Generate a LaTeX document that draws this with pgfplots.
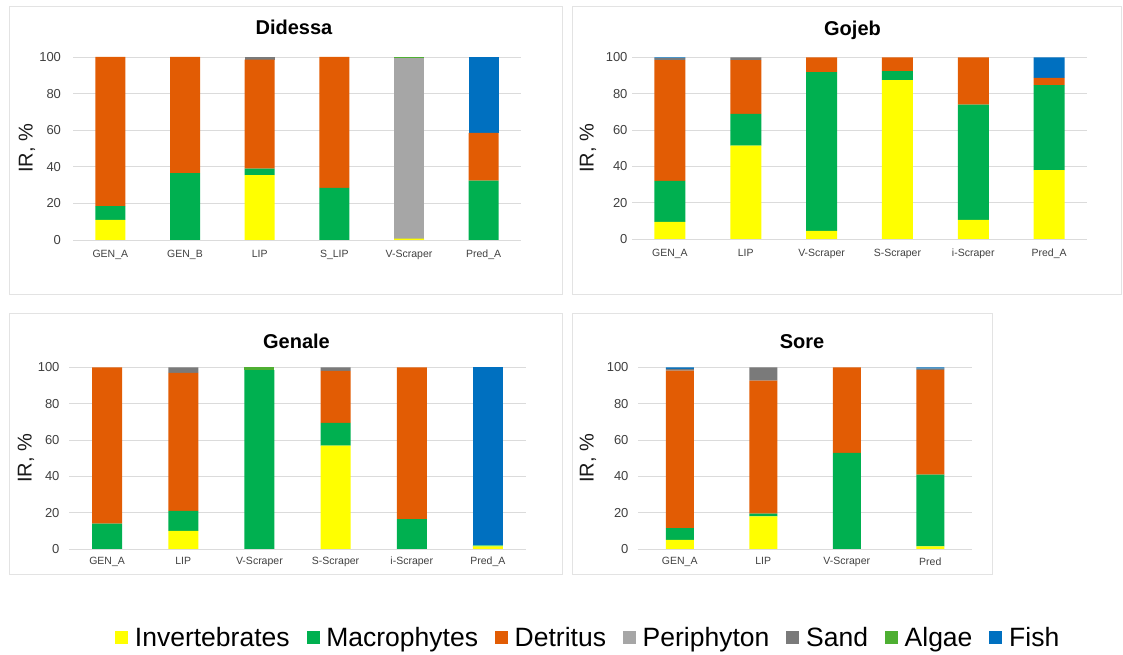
\documentclass[border=0pt]{standalone}
\usepackage{pgfplots}
\pgfplotsset{compat=1.18}
\usepackage{pgfplotstable}
\usepackage{fontspec}
\setmainfont{Liberation Sans}

\definecolor{cInv}{HTML}{FFFF00}
\definecolor{cMac}{HTML}{00B050}
\definecolor{cDet}{HTML}{E25C04}
\definecolor{cPer}{HTML}{A6A6A6}
\definecolor{cSand}{HTML}{7A7A7A}
\definecolor{cAlg}{HTML}{4EAF32}
\definecolor{cFish}{HTML}{0070C0}
\definecolor{tick}{HTML}{404040}
\definecolor{frame}{HTML}{E3E3E3}

% Didessa: GEN_A GEN_B LIP S_LIP V-Scraper Pred_A
\pgfplotstableread{
x Inv Mac Det Per Sand Alg Fish
0 11   7.5  81.5 0    0   0   0
1 0    36.5 63.5 0    0   0   0
2 35.5 3.5  59.5 0    1.5 0   0
3 0    28.5 71.5 0    0   0   0
4 0.8  0    0    98.7 0   0.5 0
5 0    32.5 26   0    0   0   41.5
}\didessa

% Gojeb: GEN_A LIP V-Scraper S-Scraper i-Scraper Pred_A
\pgfplotstableread{
x Inv Mac Det Per Sand Alg Fish
0 9.5  22.5 66.5 0 1.2 0 0.3
1 51.5 17.5 29.5 0 1.5 0 0
2 4.5  87.5 8    0 0   0 0
3 87.5 5    7.5  0 0   0 0
4 10.5 63.5 26   0 0   0 0
5 38   46.8 4    0 0   0 11.2
}\gojeb

% Genale: GEN_A LIP V-Scraper S-Scraper i-Scraper Pred_A
\pgfplotstableread{
x Inv Mac Det Per Sand Alg Fish
0 0   14   86   0 0   0   0
1 10  11   76   0 3   0   0
2 0   98.5 0    0 0   1.5 0
3 57  12.5 28.7 0 1.8 0   0
4 0   16.5 83.5 0 0   0   0
5 1.5 0.5  0    0 0   0   98
}\genale

% Sore: GEN_A LIP V-Scraper Pred
\pgfplotstableread{
x Inv Mac Det Per Sand Alg Fish
0 5   6.5  86.8 0 0.9 0 0.8
1 18  1.5  73.3 0 7.2 0 0
2 0   53   47   0 0   0 0
3 1.5 39.5 57.7 0 0.7 0 0.6
}\sore

\newcommand{\stackall}[1]{%
  \addplot[fill=cInv]  table[x=x,y=Inv]{#1};
  \addplot[fill=cMac]  table[x=x,y=Mac]{#1};
  \addplot[fill=cDet]  table[x=x,y=Det]{#1};
  \addplot[fill=cPer]  table[x=x,y=Per]{#1};
  \addplot[fill=cSand] table[x=x,y=Sand]{#1};
  \addplot[fill=cAlg]  table[x=x,y=Alg]{#1};
  \addplot[fill=cFish] table[x=x,y=Fish]{#1};
}

\pgfplotsset{
  panel/.style={
    scale only axis,
    ybar stacked,
    ymin=0, ymax=100, ytick={0,20,...,100},
    axis line style={draw=none},
    major tick length=0pt,
    ymajorgrids,
    grid style={draw=black!14, line width=0.8pt},
    /pgf/number format/assume math mode=true,
    yticklabel style={font=\fontsize{13}{15}\selectfont, text=tick},
    xticklabel style={font=\fontsize{10.5}{12}\selectfont, text=tick},
    ylabel={IR, \%},
    ylabel style={font=\fontsize{20}{24}\selectfont, anchor=center, text=black!90},
    title style={font=\bfseries\fontsize{20}{24}\selectfont, at={(axis description cs:0.5,1)}, anchor=center},
    every axis plot/.append style={draw=none},
    clip=false,
  }
}

\begin{document}
\begin{tikzpicture}
\path (0pt,0pt) rectangle (1123pt,655pt);
% panel frames
\draw[frame, line width=1pt] (9pt,648pt) rectangle (562pt,360pt);
\draw[frame, line width=1pt] (572pt,648pt) rectangle (1121pt,360pt);
\draw[frame, line width=1pt] (9pt,341pt) rectangle (562pt,80pt);
\draw[frame, line width=1pt] (572pt,341pt) rectangle (992pt,80pt);

% Didessa
\begin{axis}[panel, at={(73pt,415pt)}, anchor=south west,
  width=448pt, height=183pt, bar width=30pt,
  xmin=-0.5, xmax=5.5, xtick={0,...,5},
  xticklabels={GEN\_A,GEN\_B,LIP,S\_LIP,V-Scraper,Pred\_A},
  yticklabel style={xshift=-8.5pt},
  xticklabel style={yshift=-6.5pt},
  ylabel style={at={(axis description cs:-0.103,0.5)}},
  title={Didessa}, title style={yshift=24pt, xshift=-3pt}]
\stackall{\didessa}
\end{axis}

% Gojeb
\begin{axis}[panel, at={(632pt,416pt)}, anchor=south west,
  width=455pt, height=181.5pt, bar width=31pt,
  xmin=-0.5, xmax=5.5, xtick={0,...,5},
  xticklabels={GEN\_A,LIP,V-Scraper,S-Scraper,i-Scraper,Pred\_A},
  yticklabel style={xshift=-1pt},
  xticklabel style={yshift=-6.5pt},
  ylabel style={at={(axis description cs:-0.097,0.5)}},
  title={Gojeb}, title style={yshift=21pt, xshift=-7pt}]
\stackall{\gojeb}
\end{axis}

% Genale
\begin{axis}[panel, at={(69pt,106pt)}, anchor=south west,
  width=457pt, height=181.5pt, bar width=30pt,
  xmin=-0.5, xmax=5.5, xtick={0,...,5},
  xticklabels={GEN\_A,LIP,V-Scraper,S-Scraper,i-Scraper,Pred\_A},
  yticklabel style={xshift=-6pt},
  xticklabel style={yshift=-4.5pt},
  ylabel style={at={(axis description cs:-0.094,0.5)}},
  title={Genale}, title style={yshift=20.5pt, xshift=-1pt}]
\stackall{\genale}
\end{axis}

% Sore
\begin{axis}[panel, at={(638pt,106pt)}, anchor=south west,
  width=334pt, height=181.5pt, bar width=28pt,
  xmin=-0.5, xmax=3.5, xtick={0,...,3},
  xticklabels={GEN\_A,LIP,V-Scraper,Pred},
  yticklabel style={xshift=-6pt},
  xticklabel style={yshift=-5pt},
  ylabel style={at={(axis description cs:-0.150,0.5)}},
  title={Sore}, title style={yshift=19.5pt, xshift=-3pt}]
\stackall{\sore}
\end{axis}

% Legend
\begin{axis}[hide axis, scale only axis, width=10pt, height=10pt,
  at={(589pt,17pt)}, anchor=center,
  xmin=0, xmax=1, ymin=0, ymax=1,
  legend columns=7,
  legend style={at={(0.5,0.5)}, anchor=center, draw=none, fill=none,
    font=\fontsize{26.5}{30}\selectfont,
    nodes={inner xsep=3.5pt, inner ysep=1pt},
    /tikz/every even column/.append style={column sep=13.5pt}},
  legend image code/.code={\path[#1, draw=none] (0pt,-6.5pt) rectangle (13pt,6.5pt); \path (16pt,0pt);}]
\addlegendimage{fill=cInv}\addlegendentry{Invertebrates}
\addlegendimage{fill=cMac}\addlegendentry{Macrophytes}
\addlegendimage{fill=cDet}\addlegendentry{Detritus}
\addlegendimage{fill=cPer}\addlegendentry{Periphyton}
\addlegendimage{fill=cSand}\addlegendentry{Sand}
\addlegendimage{fill=cAlg}\addlegendentry{Algae}
\addlegendimage{fill=cFish}\addlegendentry{Fish}
\end{axis}
\end{tikzpicture}
\end{document}
